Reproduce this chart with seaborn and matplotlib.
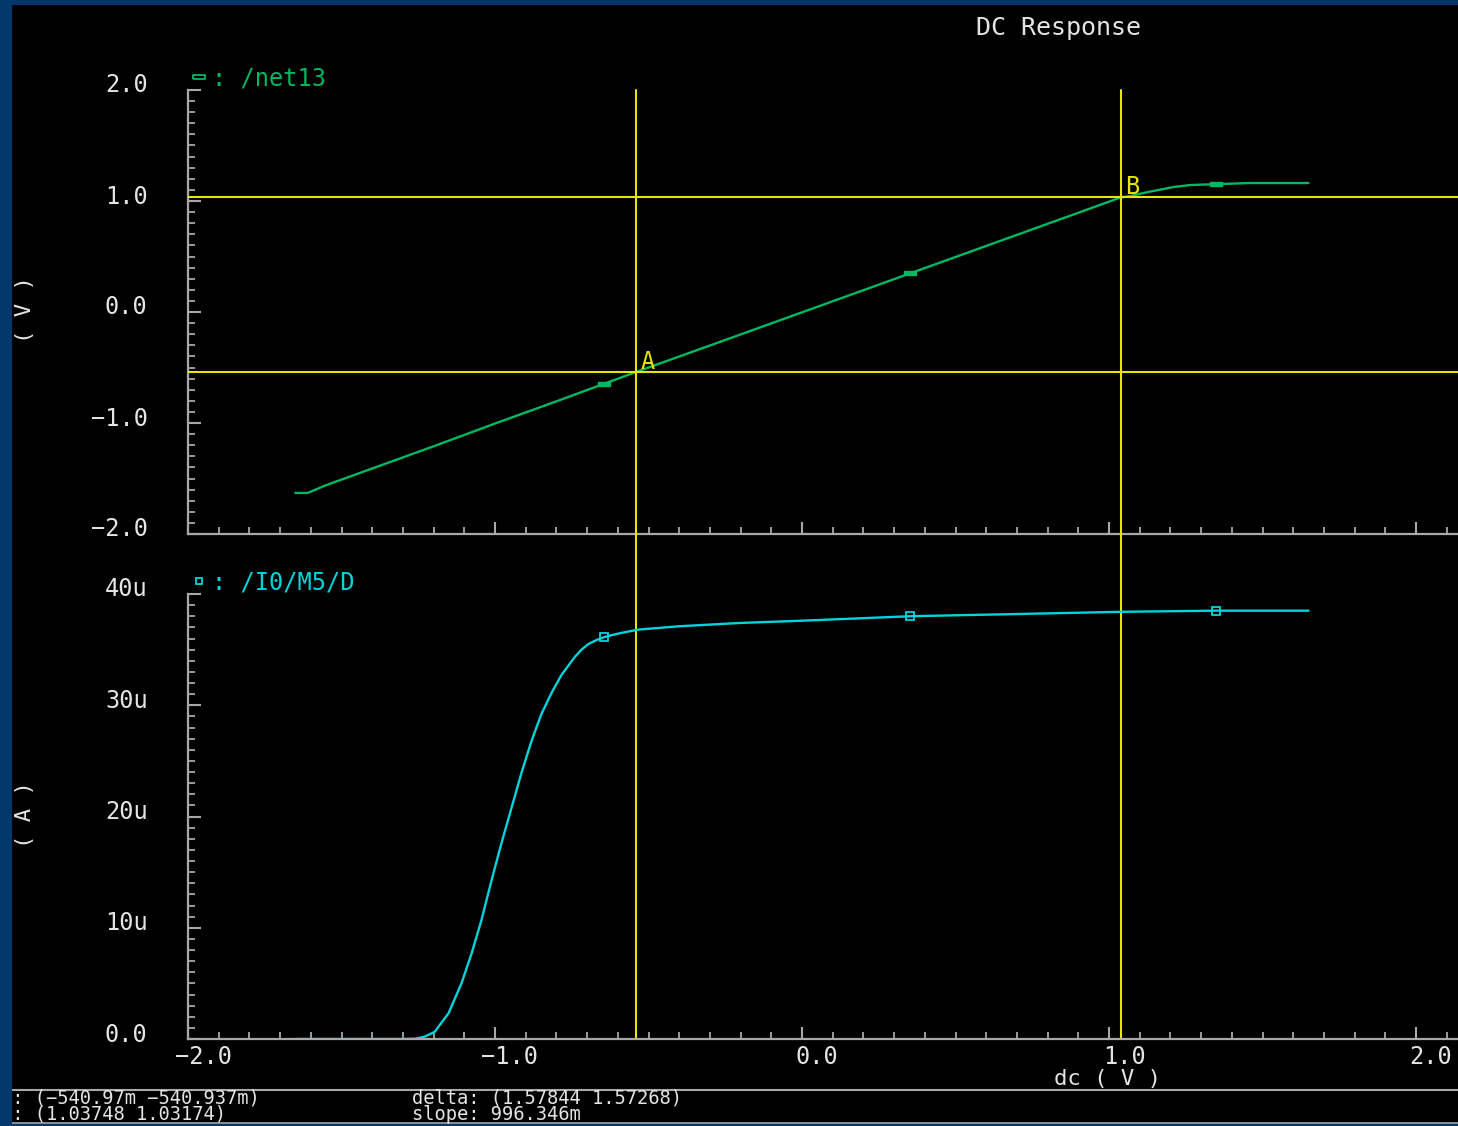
import numpy as np
import pandas as pd
import matplotlib
matplotlib.use("Agg")
import matplotlib.pyplot as plt
import seaborn as sns
from matplotlib.lines import Line2D
from matplotlib.patches import Rectangle
from matplotlib.transforms import ScaledTranslation
from matplotlib.ticker import MultipleLocator

# ---------------- data ----------------
dc_v = [-1.65, -1.61, -1.55, -1.40, -1.20, -1.00, -0.80, -0.541, -0.30, 0.00, 0.30,
        0.60, 0.90, 1.00, 1.0375, 1.07, 1.125, 1.21, 1.265, 1.363, 1.46, 1.65]
net13_v = [-1.63, -1.63, -1.56, -1.41, -1.21, -1.005, -0.805, -0.5409, -0.302, -0.003, 0.296,
           0.595, 0.894, 0.994, 1.0317, 1.045, 1.08, 1.126, 1.144, 1.153, 1.162, 1.162]

dc_i = [-1.65, -1.40, -1.30, -1.262, -1.23, -1.197, -1.151, -1.109, -1.076, -1.044, -1.011,
        -0.979, -0.946, -0.914, -0.881, -0.849, -0.816, -0.784, -0.76, -0.741, -0.72,
        -0.696, -0.67, -0.647, -0.62, -0.589, -0.533, -0.40, -0.20, 0.00, 0.35, 0.70,
        1.04, 1.35, 1.65]
m5_current_ua = [0.0, 0.0, 0.0, 0.02, 0.2, 0.63, 2.33, 5.02, 7.71, 10.7, 14.3,
                 17.6, 20.8, 23.9, 26.8, 29.2, 31.1, 32.7, 33.6, 34.3, 34.95,
                 35.5, 35.85, 36.1, 36.3, 36.5, 36.8, 37.1, 37.4, 37.6, 38.0, 38.2,
                 38.4, 38.5, 38.5]

marker_dc = [-0.645, 0.352, 1.348]

cursor_a = (-0.54097, -0.540937)
cursor_b = (1.03748, 1.03174)

x_ticks = [-2.0, -1.0, 0.0, 1.0, 2.0]
x_tick_labels = ["−2.0", "−1.0", "0.0", "1.0", "2.0"]
v_ticks = [-2.0, -1.0, 0.0, 1.0, 2.0]
v_tick_labels = ["−2.0", "−1.0", "0.0", "1.0", "2.0"]
i_ticks = [0.0, 10e-6, 20e-6, 30e-6, 40e-6]
i_tick_labels = ["0.0", "10u", "20u", "30u", "40u"]

title_text = "DC Response"
series_v_name = ": /net13"
series_i_name = ": /I0/M5/D"
info_left = ["A: (−540.97m −540.937m)", "B: (1.03748 1.03174)"]
info_right = ["delta: (1.57844 1.57268)", "slope: 996.346m"]

# ---------------- style ----------------
GREEN = "#00b862"
CYAN = "#00d4dc"
YELLOW = "#e6e600"
GRAY = "#a8a8a8"
TXT = "#e4e4e4"
BLUE = "#00386c"
BG = "#000000"

sns.set_style("dark", rc={"axes.facecolor": "none", "figure.facecolor": BG,
                          "axes.grid": False})
plt.rcParams["font.family"] = ["DejaVu Sans Mono", "DejaVu Sans"]

W, H = 1458, 1126
fig = plt.figure(figsize=(W / 100, H / 100), dpi=100, facecolor=BG)


def fx(px):
    return px / W


def fy(py):
    return 1 - py / H


x_left_px, x_right_px = 188, 1458
px_per_unit = 307.0
xmin = -2.0
xmax = xmin + (x_right_px - x_left_px) / px_per_unit

ax1 = fig.add_axes([fx(188), fy(534), fx(1458 - 188), (534 - 90) / H])
ax2 = fig.add_axes([fx(188), fy(1039), fx(1458 - 188), (1039 - 594) / H])

df_v = pd.DataFrame({"dc": dc_v, "v": net13_v})
df_i = pd.DataFrame({"dc": dc_i, "i": np.array(m5_current_ua) * 1e-6})

sns.lineplot(data=df_v, x="dc", y="v", ax=ax1, color=GREEN, lw=1.7,
             estimator=None, sort=False)
sns.lineplot(data=df_i, x="dc", y="i", ax=ax2, color=CYAN, lw=1.7,
             estimator=None, sort=False)

rect_marker = [(-1, -0.35), (1, -0.35), (1, 0.35), (-1, 0.35), (-1, -0.35)]
mk_v = pd.DataFrame({"dc": marker_dc, "v": np.interp(marker_dc, dc_v, net13_v)})
mk_i = pd.DataFrame({"dc": marker_dc,
                     "i": np.interp(marker_dc, dc_i, m5_current_ua) * 1e-6})
sns.scatterplot(data=mk_v, x="dc", y="v", ax=ax1, marker=rect_marker, s=70,
                color=GREEN, edgecolor=GREEN, linewidth=1.0, zorder=5)
ax2.plot(mk_i["dc"], mk_i["i"], ls="none", marker="s", ms=5.5, mfc="none",
         mec=CYAN, mew=1.3, zorder=5)

for ax in (ax1, ax2):
    ax.set_xlim(xmin, xmax)
    ax.set_xticks(x_ticks)
    ax.xaxis.set_minor_locator(MultipleLocator(0.1))
    for s in ("top", "right"):
        ax.spines[s].set_visible(False)
    for s in ("left", "bottom"):
        ax.spines[s].set_color(GRAY)
        ax.spines[s].set_linewidth(1.6)
    ax.tick_params(which="both", bottom=True, left=True, top=False,
                   right=False)
    ax.tick_params(which="major", direction="in", length=9, width=1.5,
                   color=GRAY, labelcolor=TXT, labelsize=17)
    ax.tick_params(which="minor", direction="in", length=5, width=1.3,
                   color=GRAY)
    ax.tick_params(axis="y", which="major", pad=29)
    ax.tick_params(axis="x", which="major", pad=4)
    ax.set_xlabel("")
    ax.set_ylabel("")

ax1.set_ylim(-2.0, 2.0)
ax1.set_yticks(v_ticks)
ax1.set_yticklabels(v_tick_labels)
ax1.yaxis.set_minor_locator(MultipleLocator(0.1))
ax1.tick_params(axis="x", labelbottom=False)

ax2.set_ylim(0, 40e-6)
ax2.set_yticks(i_ticks)
ax2.set_yticklabels(i_tick_labels)
ax2.yaxis.set_minor_locator(MultipleLocator(1e-6))
ax2.set_xticklabels(x_tick_labels)

# nudge tick labels like the original
for ax in (ax1, ax2):
    for lab in ax.get_yticklabels():
        lab.set_transform(lab.get_transform() +
                          ScaledTranslation(0, 7 / 100, fig.dpi_scale_trans))
for lab in ax2.get_xticklabels():
    lab.set_transform(lab.get_transform() +
                      ScaledTranslation(15 / 100, 0, fig.dpi_scale_trans))

# cursors
gap = (1039 - 534) / (534 - 90)
for xc in (cursor_a[0], cursor_b[0]):
    ax1.axvline(xc, ymin=-gap, ymax=1, color=YELLOW, lw=1.5, clip_on=False,
                zorder=4)
for yc in (cursor_a[1], cursor_b[1]):
    ax1.axhline(yc, color=YELLOW, lw=1.5, zorder=4)
ax1.annotate("A", xy=cursor_a, xytext=(5, -2), textcoords="offset pixels",
             color=YELLOW, fontsize=17, ha="left", va="bottom", zorder=6)
ax1.annotate("B", xy=cursor_b, xytext=(5, -2), textcoords="offset pixels",
             color=YELLOW, fontsize=17, ha="left", va="bottom", zorder=6)

# legends
h_v = Line2D([], [], ls="none", marker=rect_marker, ms=9, mfc="none",
             mec=GREEN, mew=1.3)
h_i = Line2D([], [], ls="none", marker="s", ms=5, mfc="none", mec=CYAN,
             mew=1.3)
ax1.legend([h_v], [series_v_name], loc="lower left",
           bbox_to_anchor=(0.0, 1.0), frameon=False, handlelength=0.9,
           handletextpad=0.1, borderpad=0, borderaxespad=0,
           prop={"size": 17}, labelcolor=GREEN)
ax2.legend([h_i], [series_i_name], loc="lower left",
           bbox_to_anchor=(0.0, 1.0), frameon=False, handlelength=0.9,
           handletextpad=0.1, borderpad=0, borderaxespad=0,
           prop={"size": 17}, labelcolor=CYAN)

# titles / labels
fig.text(fx(1058), fy(28), title_text, color=TXT, fontsize=18, ha="center",
         va="center")
fig.text(fx(25), fy(310), "( V )", color=TXT, fontsize=16, rotation=90,
         ha="center", va="center")
fig.text(fx(25), fy(815), "( A )", color=TXT, fontsize=16, rotation=90,
         ha="center", va="center")
fig.text(fx(1108), fy(1079), "dc ( V )", color=TXT, fontsize=16, ha="center",
         va="center")

# info bar
fig.add_artist(Line2D([fx(12), 1], [fy(1090), fy(1090)], color=GRAY, lw=1.5))
fig.add_artist(Line2D([fx(12), 1], [fy(1123), fy(1123)], color=GRAY, lw=1.2))
fig.text(fx(1), fy(1106), "\n".join(info_left), color=TXT, fontsize=13.5,
         ha="left", va="center", linespacing=0.8)
fig.text(fx(412), fy(1106), "\n".join(info_right), color=TXT, fontsize=13.5,
         ha="left", va="center", linespacing=0.8)

# blue window border
border = [Rectangle((0, 0), fx(12), 1), Rectangle((0, fy(5)), 1, 5 / H),
          Rectangle((0, 0), 1, 2 / H)]
for r in border:
    r.set_transform(fig.transFigure)
    r.set_facecolor(BLUE)
    r.set_edgecolor("none")
    r.set_zorder(50)
    fig.add_artist(r)

fig.savefig("out.png", dpi=100, facecolor=BG)
